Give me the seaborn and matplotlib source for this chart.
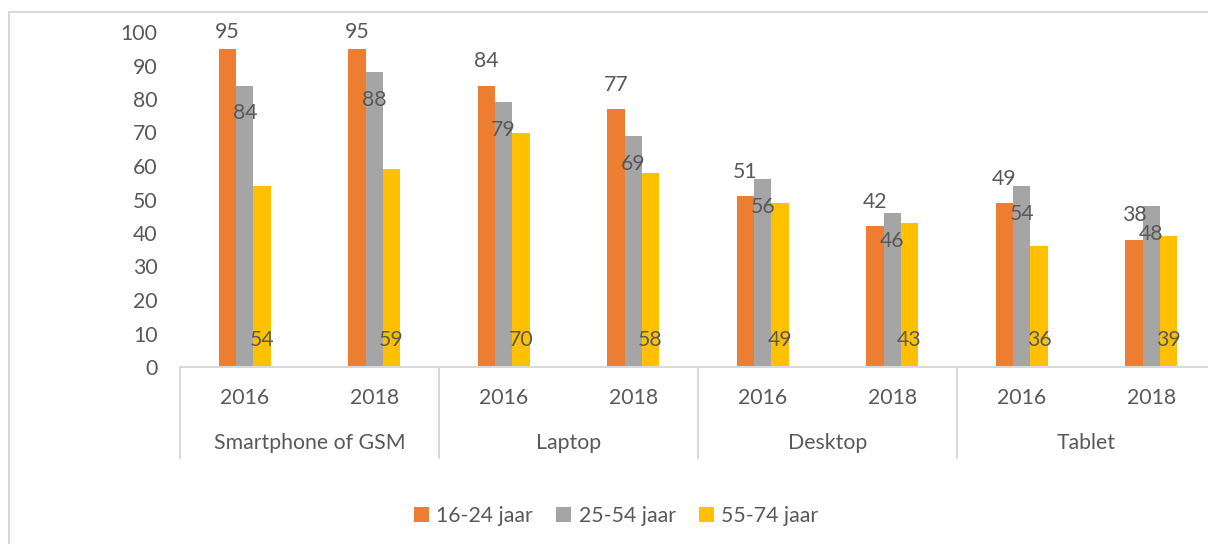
import pandas as pd
import matplotlib
matplotlib.use("Agg")
import matplotlib.pyplot as plt
import matplotlib.transforms as mtransforms
from matplotlib.lines import Line2D
from matplotlib.patches import Patch
import seaborn as sns

# data
apparaten = ["Smartphone of GSM", "Laptop", "Desktop", "Tablet"]
jaren = ["2016", "2018"]
groepen = ["16-24 jaar", "25-54 jaar", "55-74 jaar"]
jong = [95, 95, 84, 77, 51, 42, 49, 38]
midden = [84, 88, 79, 69, 56, 46, 54, 48]
oud = [54, 59, 70, 58, 49, 43, 36, 39]
kleuren = ["#ED7D31", "#A5A5A5", "#FFC000"]

sns.set_theme(style="white")
plt.rcParams["font.family"] = ["Lato", "DejaVu Sans"]
tekst = "#595959"
lijn = "#D9D9D9"
fs = 15.3

cats = [f"{a} {j}" for a in apparaten for j in jaren]
rows = []
for g, vals in zip(groepen, [jong, midden, oud]):
    for c, v in zip(cats, vals):
        rows.append({"cat": c, "groep": g, "waarde": v})
df = pd.DataFrame(rows)

fig = plt.figure(figsize=(12.08, 5.44), dpi=100)
ax = fig.add_axes([180 / 1208, (544 - 367) / 544, 1036 / 1208, 335 / 544])

sns.barplot(data=df, x="cat", y="waarde", hue="groep", order=cats,
            hue_order=groepen, palette=kleuren, width=0.4, ax=ax,
            saturation=1, legend=False, edgecolor="none")

ax.set_xlim(-0.5, len(cats) - 0.5)
ax.set_ylim(0, 100)
ax.set_yticks(range(0, 101, 10))
ax.set_xlabel("")
ax.set_ylabel("")
ax.set_xticks(range(len(cats)))
ax.set_xticklabels(jaren * len(apparaten))
ax.tick_params(axis="y", length=0, pad=16, labelsize=fs, labelcolor=tekst)
ax.tick_params(axis="x", length=0, pad=15, labelsize=fs, labelcolor=tekst)
for s in ["top", "right", "left"]:
    ax.spines[s].set_visible(False)
ax.spines["bottom"].set_color(lijn)
ax.spines["bottom"].set_linewidth(1.5)

# points per data unit, to keep outside-end labels inside the plot
pt_per_unit = ax.get_window_extent().height / 100 * 72 / fig.dpi

# data labels: outside end / inside end / inside base
for k, cont in enumerate(ax.containers):
    for bar in cont:
        h = bar.get_height()
        xc = bar.get_x() + bar.get_width() / 2
        if k == 0:
            xy, dy = (xc, h), min(17.5, (100 - h) * pt_per_unit)
        elif k == 1:
            xy, dy = (xc, h), -20
        else:
            xy, dy = (xc, 0), 19.5
        ax.annotate(f"{h:.0f}", xy, xytext=(0, dy), textcoords="offset points",
                    ha="center", va="center", fontsize=fs, color=tekst)

# second level of the category axis
trans = mtransforms.blended_transform_factory(ax.transData, ax.transAxes)
for i, a in enumerate(apparaten):
    ax.text(2 * i + 0.5, -0.227, a, transform=trans, ha="center", va="center",
            fontsize=fs, color=tekst)
for xs in [-0.5, 1.5, 3.5, 5.5, 7.5]:
    ax.plot([xs, xs], [0, -0.272], transform=trans, color=lijn, lw=1.5,
            clip_on=False)

handles = [Patch(facecolor=k, edgecolor="none") for k in kleuren]
fig.legend(handles, groepen, loc="center", bbox_to_anchor=(0.51, 28 / 544),
           ncol=3, frameon=False, fontsize=fs, labelcolor=tekst,
           handlelength=0.7, handleheight=0.7, handletextpad=0.35,
           columnspacing=1.1)

# chart border (cropped on right and bottom)
fig.add_artist(Line2D([9 / 1208, 1], [1 - 12 / 544, 1 - 12 / 544],
                      transform=fig.transFigure, color=lijn, lw=1.5))
fig.add_artist(Line2D([9 / 1208, 9 / 1208], [0, 1 - 12 / 544],
                      transform=fig.transFigure, color=lijn, lw=1.5))

fig.savefig("out.png", dpi=100)
